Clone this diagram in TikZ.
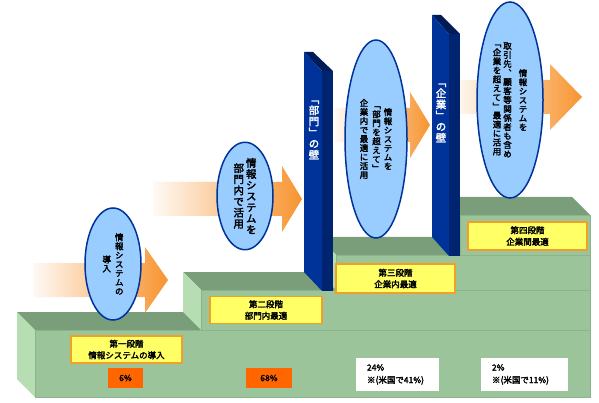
\documentclass[tikz,border=0pt]{standalone}
\usepackage{fontspec}
\usetikzlibrary{shapes.geometric}
\newfontfamily\jpfont[FakeBold=2.5]{Noto Sans CJK JP}
\newfontfamily\jpvfont[RawFeature=+vert, FakeBold=2.5]{Noto Sans CJK JP}
\definecolor{stagetop}{RGB}{122,158,122}
\definecolor{stagefront}{RGB}{156,196,154}
\definecolor{stageside}{RGB}{182,222,178}
\definecolor{stageline}{RGB}{140,180,138}
\definecolor{wallfront}{RGB}{0,51,153}
\definecolor{wallside}{RGB}{0,36,112}
\definecolor{walltop}{RGB}{0,28,88}
\definecolor{bubblefill}{RGB}{153,204,255}
\definecolor{bubbleline}{RGB}{0,51,153}
\definecolor{arrowor}{RGB}{247,148,48}
\definecolor{labelfill}{RGB}{255,255,102}
\definecolor{labelline}{RGB}{240,160,40}
\definecolor{pctfill}{RGB}{255,102,0}

% one column of upright characters, read top to bottom
\makeatletter
\def\tate@end{}
\def\tate@loop#1{\ifx#1\tate@end\else\hbox to 1em{\hss#1\hss}\expandafter\tate@loop\fi}
\newcommand\tatecol[1]{$\vcenter{\baselineskip=1.06em\tate@loop#1\tate@end}$}
\makeatother

\tikzset{
  bubble/.style={ellipse, draw=bubbleline, fill=bubblefill, line width=1.5pt,
    inner sep=0pt, font=\jpvfont\fontsize{8.5}{9}\selectfont},
  wallword/.style={text=white, inner sep=0pt,
    font=\jpvfont\fontsize{10.5}{11}\selectfont},
  stagelabel/.style={draw=labelline, fill=labelfill, line width=1.5pt,
    align=center, inner sep=0pt, font=\jpfont\fontsize{8.5}{11.5}\selectfont},
  pctbox/.style={fill=pctfill, inner sep=0pt, minimum height=20,
    font=\jpfont\fontsize{8.5}{10}\selectfont},
  notebox/.style={fill=white, align=left, inner xsep=11pt, inner ysep=0pt,
    minimum height=33, font=\jpfont\fontsize{8.5}{12.5}\selectfont}
}

\begin{document}
\begin{tikzpicture}[x=1pt, y=-1pt]
  \useasboundingbox (0,0) rectangle (599,403);
  \fill[white] (0,0) rectangle (599,403);

  % steps
  \foreach \xb/\yb/\ybot in {17/312/397, 183/272/330, 318/237/290, 442/197/255} {
    \fill[stagetop] (\xb,\yb) -- (572,\yb) -- (590,\yb+18) -- (\xb+18,\yb+18) -- cycle;
    \fill[stageside] (\xb,\yb) -- (\xb+18,\yb+18) -- (\xb+18,\ybot) -- (\xb,\ybot-18) -- cycle;
    \filldraw[fill=stagefront, draw=stageline, line width=0.4pt]
      (\xb+18,\yb+18) rectangle (590,\ybot);
  }

  % arrows
  \foreach \xa/\xh/\xt/\yc in {33/145/168/280, 153/282/302/199, 334/410/430/125, 455/550/582/97} {
    \shade[left color=arrowor!5!white, right color=arrowor]
      (\xa,\yc-17) -- (\xh,\yc-17) -- (\xh,\yc-33) -- (\xt,\yc)
      -- (\xh,\yc+33) -- (\xh,\yc+17) -- (\xa,\yc+17) -- cycle;
  }

  % walls
  \foreach \xl/\xm/\xr/\yt/\ybw in {304/322/333/52/272, 432/449/460/15/237} {
    \fill[walltop] (\xl,\yt) -- (\xl+9,\yt) -- (\xr,\yt+19) -- (\xm,\yt+19) -- cycle;
    \fill[wallfront] (\xl,\yt) -- (\xm,\yt+19) -- (\xm,\ybw+19) -- (\xl,\ybw) -- cycle;
    \fill[wallside] (\xm,\yt+19) -- (\xr,\yt+19) -- (\xr,\ybw+19) -- (\xm,\ybw+19) -- cycle;
  }
  \node[wallword] (deptwall) at (314,130) {\tatecol{「部門」の壁}};
  \node[wallword] (corpwall) at (441,113) {\tatecol{「企業」の壁}};

  % bubbles
  \node[bubble, minimum width=56, minimum height=112] (intro) at (113,264)
    {\tatecol{導入}\hspace{4pt}\tatecol{情報システムの}};
  \node[bubble, minimum width=56, minimum height=102, font=\jpvfont\fontsize{10.5}{11}\selectfont] (dept) at (245,196)
    {\tatecol{部門内で活用}\hspace{2pt}\tatecol{情報システムを}};
  \node[bubble, minimum width=62, minimum height=198] (corp) at (376,139)
    {\tatecol{企業内で最適に活用}\hspace{4pt}\tatecol{「部門を超えて」}\hspace{3pt}\tatecol{情報システムを}};
  \node[bubble, minimum width=66, minimum height=196] (inter) at (510,100)
    {\tatecol{「企業を超えて」最適に活用}\hspace{2pt}\tatecol{取引先、顧客等関係者も含め}\hspace{7pt}\tatecol{情報システムを}};

  % stage labels
  \node[stagelabel, minimum width=111, minimum height=27] (stage1) at (126.5,349.5) {第一段階\\情報システムの導入};
  \node[stagelabel, minimum width=112, minimum height=27] (stage2) at (266,310) {第二段階\\部門内最適};
  \node[stagelabel, minimum width=119, minimum height=29] (stage3) at (395.5,278.5) {第三段階\\企業内最適};
  \node[stagelabel, minimum width=119, minimum height=28] (stage4) at (527.5,236) {第四段階\\企業間最適};

  % shares
  \node[pctbox, minimum width=35] (pct1) at (125.5,378) {6\%};
  \node[pctbox, minimum width=46] (pct2) at (269,378) {68\%};
  \node[notebox, text width=61] (pct3) at (397.5,374.5) {24\%\\※(米国で41\%)};
  \node[notebox, text width=65] (pct4) at (524.5,374.5) {2\%\\※(米国で11\%)};
\end{tikzpicture}
\end{document}
